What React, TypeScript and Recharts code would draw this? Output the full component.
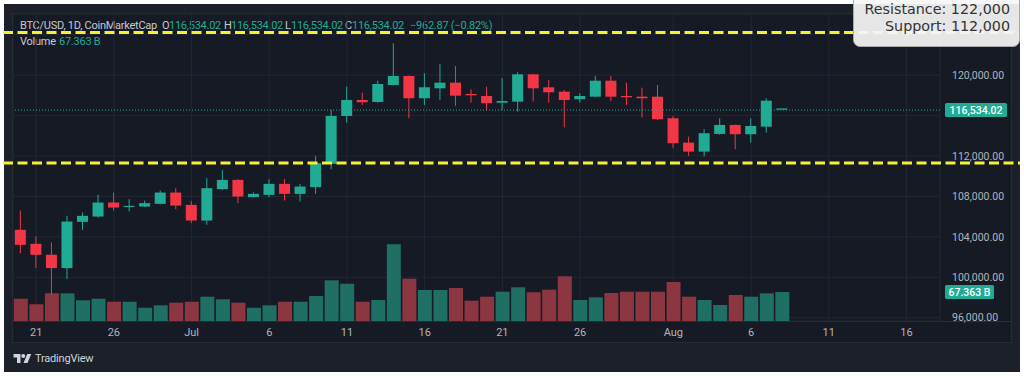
import React from "react";
import {
  ComposedChart,
  Bar,
  Cell,
  XAxis,
  YAxis,
  CartesianGrid,
  ReferenceLine,
} from "recharts";

// daily candles, Jun 20 -> Aug 8
const DATES = [
  "Jun 20", "Jun 21", "Jun 22", "Jun 23", "Jun 24", "Jun 25", "Jun 26", "Jun 27", "Jun 28", "Jun 29",
  "Jun 30", "Jul 1", "Jul 2", "Jul 3", "Jul 4", "Jul 5", "Jul 6", "Jul 7", "Jul 8", "Jul 9",
  "Jul 10", "Jul 11", "Jul 12", "Jul 13", "Jul 14", "Jul 15", "Jul 16", "Jul 17", "Jul 18", "Jul 19",
  "Jul 20", "Jul 21", "Jul 22", "Jul 23", "Jul 24", "Jul 25", "Jul 26", "Jul 27", "Jul 28", "Jul 29",
  "Jul 30", "Jul 31", "Aug 1", "Aug 2", "Aug 3", "Aug 4", "Aug 5", "Aug 6", "Aug 7", "Aug 8",
];
const OPEN = [
  104691, 103308, 102222, 100908, 105481, 106004, 107387, 106950, 106992, 107259,
  108375, 107160, 105609, 108711, 109629, 107920, 108148, 109234, 108246, 108908,
  111210, 115950, 117531, 117333, 119012, 119901, 117699, 118686, 119239, 118123,
  117926, 117264, 117363, 120069, 118785, 118351, 117600, 117857, 119437, 117926,
  117857, 117857, 115723, 113313, 112424, 114172, 115062, 114143, 114894, 116534.02,
];
const HIGH = [
  106597, 104029, 103436, 106073, 106399, 108148, 108375, 107723, 107585, 108572,
  108809, 107555, 109797, 110617, 109698, 108375, 109698, 109698, 109234, 112000,
  116543, 118844, 118252, 119437, 123131, 119950, 120168, 121086, 120889, 118588,
  118844, 119674, 120267, 120120, 119506, 118518, 118193, 119901, 119901, 119239,
  118746, 119012, 115950, 113906, 114637, 115723, 115100, 115723, 117699, 116534.02,
];
const LOW = [
  102389, 100908, 98272, 99822, 104691, 105900, 106597, 106498, 106950, 107200,
  106735, 105352, 105185, 108642, 107328, 107900, 107920, 107585, 107486, 108246,
  110686, 115289, 117037, 117264, 118950, 115723, 117037, 117531, 116938, 117264,
  116474, 116543, 116375, 117363, 117264, 114834, 117264, 117800, 117432, 117037,
  115822, 115556, 112760, 112000, 111930, 114100, 112661, 113313, 114301, 116534.02,
];
const CLOSE = [
  103209, 102222, 100908, 105510, 106073, 107387, 106893, 107060, 107328, 108375,
  107091, 105609, 108809, 109629, 107980, 108246, 109234, 108246, 108967, 111279,
  115950, 117531, 117304, 119111, 119901, 117699, 118785, 119239, 117956, 117995,
  117205, 117432, 120069, 118686, 118291, 117531, 117926, 119437, 117857, 117797,
  117699, 115625, 113254, 112424, 114242, 115062, 114143, 114963, 117462, 116534.02,
];
// volume in billions
const VOLUME_B = [
  51.8, 38.8, 64.3, 64.3, 48.1, 51.8, 44.8, 44.8, 30.9, 36.5,
  42.5, 44.8, 56.4, 50.4, 42.5, 30.9, 36.5, 44.8, 44.8, 58.1,
  94.5, 86.6, 44.8, 48.8, 178.2, 98.3, 72.0, 72.0, 76.7, 47.2,
  56.4, 68.1, 78.3, 66.7, 72.7, 103.8, 48.8, 55.0, 65.0, 68.1,
  68.1, 68.1, 90.6, 56.4, 48.8, 37.2, 60.4, 56.4, 64.3, 67.363,
];

const TICK_DAYS = [1, 6, 11, 16, 21, 26, 31, 36, 42, 47, 52, 57];
const TICK_LABELS = ["21", "26", "Jul", "6", "11", "16", "21", "26", "Aug", "6", "11", "16"];
const PRICE_TICKS = [96000, 100000, 104000, 108000, 112000, 116000, 120000, 124000];
// these labels sit under the last-price tag and the note box, so only their grid lines show
const COVERED_PRICE_TICKS = [116000, 124000];

const LAST_PRICE = 116534.02;
const LAST_VOLUME = 67.363;
// levels where the hand-drawn dashed lines sit on the price scale
const RESISTANCE_LINE = 124200;
const SUPPORT_LINE = 111300;

const X_DOMAIN = [-0.49, 59.16];
const PRICE_DOMAIN = [95674, 126032];
const VOL_DOMAIN = [0, 713];

const UP = "#22ab94";
const DOWN = "#f23645";
const VOL_UP = "#1f6f64";
const VOL_DOWN = "#8c3642";
const AXIS_TEXT = "#b2b5be";
const FONT = "Roboto, 'Noto Sans', sans-serif";

const candles = DATES.map((date, i) => ({
  day: i,
  date,
  open: OPEN[i],
  high: HIGH[i],
  low: LOW[i],
  close: CLOSE[i],
  range: [LOW[i], HIGH[i]],
  volume: VOLUME_B[i],
}));

const Candle = (props: any) => {
  const { x, y, width, height, payload } = props;
  const { open, high, low, close } = payload;
  const color = close >= open ? UP : DOWN;
  const top = Math.min(y, y + height);
  const h = Math.abs(height);
  const cx = x + width / 2;
  if (high === low || h < 0.5) {
    return <line x1={x} x2={x + width} y1={top} y2={top} stroke={color} strokeWidth={1.3} />;
  }
  const k = h / (high - low);
  const bodyTop = top + (high - Math.max(open, close)) * k;
  const bodyBot = top + (high - Math.min(open, close)) * k;
  return (
    <g>
      <line x1={cx} x2={cx} y1={top} y2={top + h} stroke={color} strokeWidth={1} />
      <rect x={x} y={bodyTop} width={width} height={Math.max(1, bodyBot - bodyTop)} fill={color} />
    </g>
  );
};

const Tag = ({ viewBox, text, w }: any) => {
  if (!viewBox) return null;
  const x = viewBox.x + viewBox.width + 5;
  const y = viewBox.y;
  return (
    <g>
      <rect x={x} y={y - 7} width={w} height={14} rx={1.5} fill={UP} />
      <text x={x + w / 2} y={y} dy="0.35em" textAnchor="middle" fill="#ffffff" fontSize={10.5} fontFamily={FONT} fontWeight={500}>
        {text}
      </text>
    </g>
  );
};

const DashedLevel = (props: any) => {
  const { y1 } = props;
  return <line x1={3} x2={1020} y1={y1} y2={y1} stroke="#f2f233" strokeWidth={3} strokeDasharray="10 4.5" />;
};

const TvLogo = () => (
  <svg width="19" height="11" viewBox="0 0 36 22">
    <path d="M14 20H7V9H0V2h14v18z" fill="#d1d4dc" />
    <circle cx="19.5" cy="6" r="4" fill="#d1d4dc" />
    <path d="M28 20h-8l7.5-18h8L28 20z" fill="#d1d4dc" />
  </svg>
);

const hdr = (left: number, top: number, color: string, text: string) => (
  <span
    style={{
      position: "absolute",
      left,
      top,
      color,
      fontFamily: FONT,
      fontSize: 11,
      letterSpacing: -0.25,
      lineHeight: "13px",
      whiteSpace: "nowrap",
    }}
  >
    {text}
  </span>
);

export default function App() {
  return (
    <div style={{ position: "absolute", left: 0, top: 0, width: 1024, height: 378, background: "#ffffff", overflow: "hidden" }}>
      {/* outer panel */}
      <div style={{ position: "absolute", left: 4, top: 4, width: 1016, height: 368, background: "#1c2029" }} />
      {/* chart frame */}
      <div style={{ position: "absolute", left: 12, top: 13, width: 998, height: 328, background: "#161a25", border: "1px solid #262a35" }} />
      <div style={{ position: "absolute", left: 13, top: 321, width: 998, height: 1, background: "#2a2e39" }} />

      {/* legend */}
      {hdr(20, 19, "#c6c9d1", "BTC/USD, 1D, CoinMarketCap")}
      {hdr(162, 19, "#c6c9d1", "O")}
      {hdr(169, 19, UP, "116,534.02")}
      {hdr(224, 19, "#c6c9d1", "H")}
      {hdr(231, 19, UP, "116,534.02")}
      {hdr(285, 19, "#c6c9d1", "L")}
      {hdr(291, 19, UP, "116,534.02")}
      {hdr(345, 19, "#c6c9d1", "C")}
      {hdr(352, 19, UP, "116,534.02")}
      {hdr(410, 19, UP, "\u2212962.87 (\u22120.82%)")}
      {hdr(20, 35, "#c6c9d1", "Volume")}
      {hdr(59, 35, UP, "67.363 B")}

      <div style={{ position: "absolute", left: 0, top: 0 }}>
        <ComposedChart width={1024} height={378} data={candles} margin={{ top: 14, right: 13, bottom: 36, left: 13 }}>
          <CartesianGrid xAxisId="x" yAxisId="price" stroke="#232733" strokeWidth={1} />
          <XAxis
            xAxisId="x"
            dataKey="day"
            type="number"
            domain={X_DOMAIN}
            allowDataOverflow
            ticks={TICK_DAYS}
            tickFormatter={(v: number) => TICK_LABELS[TICK_DAYS.indexOf(v)] ?? ""}
            height={21}
            axisLine={false}
            tickLine={false}
            tickSize={5}
            tickMargin={2}
            interval={0}
            tick={{ fill: AXIS_TEXT, fontSize: 11, fontFamily: FONT }}
          />
          <XAxis xAxisId="xv" dataKey="day" type="number" domain={X_DOMAIN} allowDataOverflow hide />
          <YAxis
            yAxisId="price"
            orientation="right"
            type="number"
            domain={PRICE_DOMAIN}
            allowDataOverflow
            ticks={PRICE_TICKS}
            interval={0}
            width={71}
            axisLine={false}
            tickLine={false}
            tickSize={6}
            tickMargin={6}
            tickFormatter={(v: number) =>
              COVERED_PRICE_TICKS.includes(v)
                ? ""
                : v.toLocaleString("en-US", { minimumFractionDigits: 2, maximumFractionDigits: 2 })
            }
            tick={{ fill: AXIS_TEXT, fontSize: 10.5, fontFamily: FONT, textAnchor: "start" }}
          />
          <YAxis yAxisId="vol" type="number" domain={VOL_DOMAIN} allowDataOverflow hide />

          <ReferenceLine xAxisId="x" yAxisId="price" y={LAST_PRICE} stroke={UP} strokeWidth={1} strokeDasharray="1 2" />

          <Bar xAxisId="xv" yAxisId="vol" dataKey="volume" barSize={14} isAnimationActive={false}>
            {candles.map((c, i) => (
              <Cell key={i} fill={c.close >= c.open ? VOL_UP : VOL_DOWN} />
            ))}
          </Bar>
          <Bar xAxisId="x" yAxisId="price" dataKey="range" barSize={11} shape={Candle} minPointSize={1} isAnimationActive={false} />

          <ReferenceLine
            xAxisId="xv"
            yAxisId="vol"
            y={LAST_VOLUME}
            stroke="none"
            label={(p: any) => <Tag viewBox={p.viewBox} text="67.363 B" w={49} />}
          />
          <ReferenceLine
            xAxisId="x"
            yAxisId="price"
            y={LAST_PRICE}
            stroke="none"
            label={(p: any) => <Tag viewBox={p.viewBox} text="116,534.02" w={62} />}
          />
          <ReferenceLine xAxisId="x" yAxisId="price" y={SUPPORT_LINE} shape={DashedLevel} />
          <ReferenceLine xAxisId="x" yAxisId="price" y={RESISTANCE_LINE} shape={DashedLevel} />
        </ComposedChart>
      </div>

      {/* watermark */}
      <div style={{ position: "absolute", left: 13, top: 352, display: "flex", alignItems: "center", gap: 3 }}>
        <TvLogo />
        <span style={{ color: "#d1d4dc", fontFamily: FONT, fontSize: 11, letterSpacing: -0.2 }}>TradingView</span>
      </div>

      {/* annotation box */}
      <div
        style={{
          position: "absolute",
          left: 853,
          top: -6,
          width: 156,
          height: 42,
          padding: "6px 9px 3px 0",
          background: "rgba(246,246,246,0.93)",
          border: "1px solid #a9a9a9",
          borderRadius: 7,
          fontFamily: "'DejaVu Sans', sans-serif",
          fontSize: 14.3,
          lineHeight: "16.7px",
          color: "#333333",
          textAlign: "right",
          whiteSpace: "nowrap",
        }}
      >
        <div>Resistance: 122,000</div>
        <div>Support: 112,000</div>
      </div>
    </div>
  );
}
